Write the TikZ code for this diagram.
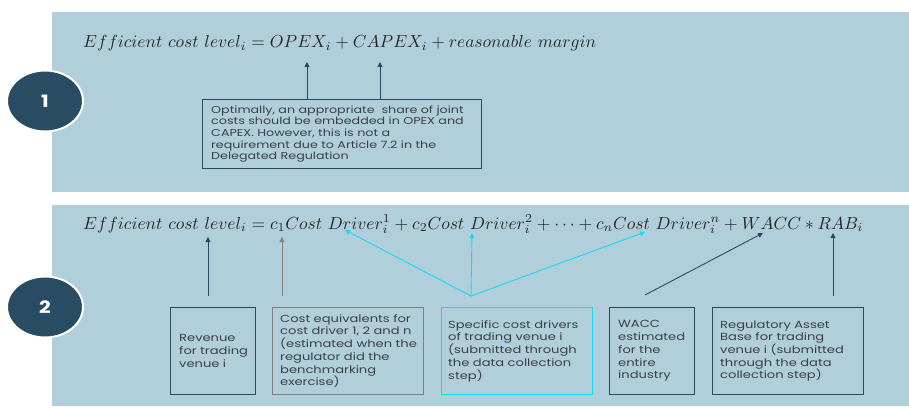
\documentclass[tikz,border=0pt]{standalone}
\usepackage{fontspec}
\setsansfont{Poppins}
\newfontfamily\boxfont[FakeStretch=1.27]{Poppins}
\newfontfamily\numfont[FakeStretch=1.2]{Poppins}
\usetikzlibrary{arrows.meta,shapes.geometric}
\definecolor{panelbg}{RGB}{176,207,219}
\definecolor{navy}{RGB}{42,76,99}
\definecolor{darkline}{RGB}{44,74,94}
\definecolor{greyline}{RGB}{128,128,128}
\definecolor{cyanline}{RGB}{24,217,245}
\definecolor{boxtext}{RGB}{58,64,70}
\tikzset{
  numcircle/.style={ellipse, fill=navy, draw=white, line width=2pt,
    minimum width=76pt, minimum height=61pt, text=white,
    font=\numfont\bfseries\fontsize{17}{17}\selectfont},
  infobox/.style={draw=darkline, line width=1.1pt, anchor=north west,
    inner sep=0pt, minimum height=87pt},
  boxlabel/.style={anchor=west, inner sep=0pt, align=left, text=boxtext,
    font=\boxfont\fontsize{10.3}{12.7}\selectfont},
  darkarrow/.style={draw=darkline, line width=0.9pt, -{Triangle[width=5pt,length=5pt]}},
  greyarrow/.style={draw=greyline, line width=0.9pt, -{Triangle[width=5pt,length=5pt]}},
  cyanarrow/.style={draw=cyanline, line width=0.9pt, -{Triangle[width=5pt,length=5pt]}},
  formula/.style={anchor=base west, inner sep=0pt, text=black!85}
}
\begin{document}
\begin{tikzpicture}[x=1pt,y=-1pt]
\useasboundingbox (0,0) rectangle (909,409);
\fill[white] (0,0) rectangle (909,409);
\fill[panelbg] (52,12) rectangle (909,192);
\fill[panelbg] (52,205) rectangle (909,406);

\node[numcircle] (c1) at (45,101) {1};
\node[numcircle] (c2) at (45,307) {2};

% Panel 1
\node[formula] (f1) at (83,48) {\resizebox{513pt}{!}{$Efficient\ cost\ level_i = OPEX_i + CAPEX_i + reasonable\ margin$}};
\node[infobox, minimum width=279pt, minimum height=69pt] (b1) at (202,99) {};
\node[boxlabel, font=\boxfont\fontsize{10}{11.7}\selectfont] (b1t) at ([xshift=9pt]b1.west)
  {Optimally, an appropriate\ \ share of joint\\costs should be embedded in OPEX and\\CAPEX. However, this is not a\\requirement due to Article 7.2 in the\\Delegated Regulation};
\coordinate (t1a) at (307,62);
\coordinate (t1b) at (380,62);
\coordinate (s1a) at (307,99);
\coordinate (s1b) at (380,99);
\draw[darkarrow] (s1a) -- (t1a);
\draw[darkarrow] (s1b) -- (t1b);

% Panel 2
\node[formula] (f2) at (83,229) {\resizebox{780pt}{!}{$Efficient\ cost\ level_i = c_1 Cost\ Driver_i^1 + c_2 Cost\ Driver_i^2 + \cdots + c_n Cost\ Driver_i^n + WACC * RAB_i$}};

\node[infobox, minimum width=85pt] (rev) at (170,307) {};
\node[boxlabel] (revt) at ([xshift=9pt]rev.west) {Revenue\\for trading\\venue i};
\node[infobox, draw=greyline, minimum width=151pt] (ceq) at (272,307) {};
\node[boxlabel] (ceqt) at ([xshift=8pt]ceq.west)
  {Cost equivalents for\\cost driver 1, 2 and n\\(estimated when the\\regulator did the\\benchmarking\\exercise)};
\node[infobox, draw=cyanline, minimum width=151pt] (scd) at (441,307) {};
\node[boxlabel] (scdt) at ([xshift=7pt]scd.west)
  {Specific cost drivers\\of trading venue i\\(submitted through\\the data collection\\step)};
\node[infobox, minimum width=85pt] (wacc) at (609,307) {};
\node[boxlabel] (wacct) at ([xshift=9pt]wacc.west)
  {WACC\\estimated\\for the\\entire\\industry};
\node[infobox, minimum width=151pt] (rab) at (712,307) {};
\node[boxlabel] (rabt) at ([xshift=8pt]rab.west)
  {Regulatory Asset\\Base for trading\\venue i (submitted\\through the data\\collection step)};

\coordinate (srev) at (208,296);  \coordinate (trev) at (208,237);
\coordinate (sceq) at (282,296);  \coordinate (tceq) at (282,237);
\coordinate (sscd) at (471,296);
\coordinate (td1) at (345,230);   \coordinate (td2) at (472,233);  \coordinate (td3) at (645,232);
\coordinate (swacc) at (645,295); \coordinate (twacc) at (763,233);
\coordinate (srab) at (833,296);  \coordinate (trab) at (833,233);

\draw[darkarrow] (srev) -- (trev);
\draw[greyarrow] (sceq) -- (tceq);
\draw[cyanarrow] (sscd) -- (td1);
\draw[cyanarrow] (sscd) -- (td2);
\draw[cyanarrow] (sscd) -- (td3);
\draw[darkarrow] (swacc) -- (twacc);
\draw[darkarrow] (srab) -- (trab);
\end{tikzpicture}
\end{document}
